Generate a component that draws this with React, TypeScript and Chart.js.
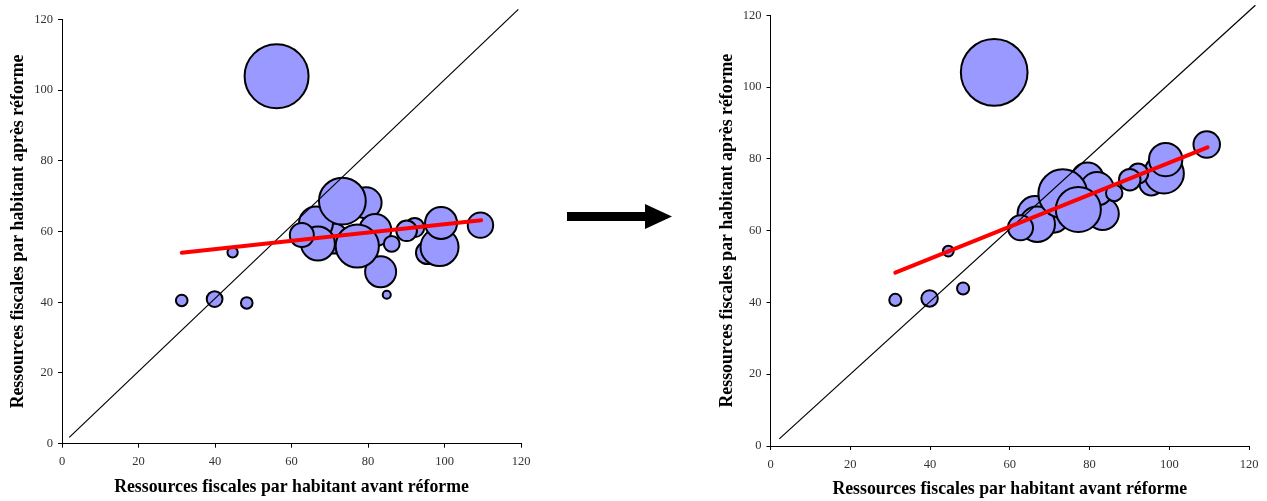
import React, { useEffect, useRef } from 'react';
import { Chart, registerables } from 'chart.js';

Chart.register(...registerables);

// Ressources fiscales par habitant avant réforme (axe horizontal, commun aux deux graphiques)
const avantReforme = [84.9, 79.5, 83.3, 81.9, 95.5, 98.7, 99.1, 92.2, 90.1, 86.2, 71.0, 66.4, 66.9, 62.7, 73.3, 77.2, 56.1, 31.3, 39.9, 48.3, 44.6, 109.4];
// Ressources fiscales par habitant après réforme, premier scénario
const apresScenarioA = [42.1, 68.1, 48.6, 60.4, 54.0, 55.6, 62.4, 61.1, 60.2, 56.5, 58.0, 62.3, 56.6, 59.0, 68.6, 55.9, 103.9, 40.5, 40.9, 39.8, 54.1, 61.8];
// Ressources fiscales par habitant après réforme, second scénario
const apresScenarioB = [71.0, 74.5, 64.7, 71.7, 73.1, 75.9, 79.8, 75.9, 74.2, 70.5, 63.8, 64.7, 61.8, 60.8, 70.3, 65.9, 104.1, 40.7, 41.1, 43.9, 54.3, 84.0];
// Poids de chaque collectivité (taille des bulles)
const poids = [1.6, 23.5, 23.5, 25, 12.5, 35.3, 25, 9, 10.4, 6.1, 22, 28.2, 28.2, 14.1, 53.5, 45.6, 100, 3.3, 6.1, 3.3, 2.6, 15.8];

// Droites de tendance (extrémités)
const tendanceX = [31.3, 109.6];
const tendanceA = [54.0, 63.2];
const tendanceB = [48.3, 83.2];

// Première bissectrice
const bissectriceAX = [1.9, 119.3];
const bissectriceAY = [1.8, 122.8];
const bissectriceBX = [2.2, 121.6];
const bissectriceBY = [2.0, 122.8];

const axisTicks = [0, 20, 40, 60, 80, 100, 120];

const titreX = 'Ressources fiscales par habitant avant réforme';
const titreY = 'Ressources fiscales par habitant après réforme';

const poidsMax = Math.max(...poids);

type Frame = {
  width: number;
  padRight: number;
  padTop: number;
  yWidth: number;
  xHeight: number;
  yTitlePad: number;
  xTitlePad: number;
};

function buildConfig(apres: number[], tendance: number[], bx: number[], by: number[], f: Frame): any {
  // the largest bubble spans about 14 % of the plot width
  const plotWidth = f.width - f.yWidth - f.padRight;
  const rMax = plotWidth * 0.0697;
  const bubbles = avantReforme.map((x, i) => ({ x, y: apres[i], r: rMax * Math.sqrt(poids[i] / poidsMax) }));
  const tickFont = { family: 'Liberation Serif', size: 12.5 };
  const titleFont = { family: 'Liberation Serif', size: 17.8, weight: 'bold' as const };
  return {
    type: 'bubble',
    data: {
      datasets: [
        {
          type: 'line',
          data: tendanceX.map((x, i) => ({ x, y: tendance[i] })),
          borderColor: '#ff0000',
          borderWidth: 4,
          borderCapStyle: 'round',
          pointRadius: 0,
          fill: false,
          clip: false,
        },
        {
          type: 'line',
          data: bx.map((x, i) => ({ x, y: by[i] })),
          borderColor: '#000000',
          borderWidth: 1.2,
          pointRadius: 0,
          fill: false,
          clip: false,
        },
        {
          type: 'bubble',
          data: bubbles,
          backgroundColor: '#9999ff',
          borderColor: '#000000',
          borderWidth: 2,
          clip: false,
        },
      ],
    },
    options: {
      animation: false,
      responsive: false,
      events: [],
      layout: {
        autoPadding: false,
        padding: { left: 0, right: f.padRight, top: f.padTop, bottom: 0 },
      },
      plugins: { legend: { display: false }, tooltip: { enabled: false } },
      scales: {
        x: {
          type: 'linear',
          min: 0,
          max: 120,
          afterBuildTicks: (s: any) => {
            s.ticks = axisTicks.map((v) => ({ value: v }));
          },
          afterFit: (s: any) => {
            s.height = f.xHeight;
          },
          grid: { drawOnChartArea: false, drawTicks: true, tickLength: 4, color: '#000000', lineWidth: 1 },
          border: { display: true, color: '#000000', width: 1 },
          ticks: { font: tickFont, color: '#333333', padding: 7, maxRotation: 0 },
          title: { display: true, text: titreX, font: titleFont, color: '#000000', padding: { top: 0, bottom: f.xTitlePad } },
        },
        y: {
          type: 'linear',
          min: 0,
          max: 120,
          afterBuildTicks: (s: any) => {
            s.ticks = axisTicks.map((v) => ({ value: v }));
          },
          afterFit: (s: any) => {
            s.width = f.yWidth;
          },
          grid: { drawOnChartArea: false, drawTicks: true, tickLength: 4, color: '#000000', lineWidth: 1 },
          border: { display: true, color: '#000000', width: 1 },
          ticks: { font: tickFont, color: '#333333', padding: 5 },
          title: { display: true, text: titreY, font: titleFont, color: '#000000', padding: { top: f.yTitlePad, bottom: 0 } },
        },
      },
    },
  };
}

function BubblePanel(props: {
  left: number;
  apres: number[];
  tendance: number[];
  bx: number[];
  by: number[];
  frame: Frame;
}) {
  const ref = useRef<HTMLCanvasElement | null>(null);
  useEffect(() => {
    if (!ref.current) return;
    const chart = new Chart(ref.current, buildConfig(props.apres, props.tendance, props.bx, props.by, props.frame));
    return () => chart.destroy();
  }, []);
  const w = props.frame.width;
  return (
    <canvas
      ref={ref}
      width={w}
      height={501}
      style={{ position: 'absolute', left: props.left, top: 0, width: w, height: 501 }}
    />
  );
}

export default function App() {
  return (
    <div style={{ position: 'absolute', left: 0, top: 0, width: 1267, height: 501, background: '#ffffff', overflow: 'hidden' }}>
      <BubblePanel
        left={0}
        apres={apresScenarioA}
        tendance={tendanceA}
        bx={bissectriceAX}
        by={bissectriceAY}
        frame={{ width: 540, padRight: 19, padTop: 19.3, yWidth: 62, xHeight: 57.3, yTitlePad: 7.4, xTitlePad: 2.6 }}
      />
      <svg width={1267} height={501} style={{ position: 'absolute', left: 0, top: 0, pointerEvents: 'none' }}>
        <polygon points="567,212 645,212 645,204 672,216.5 645,229 645,221 567,221" fill="#000000" />
      </svg>
      <BubblePanel
        left={700}
        apres={apresScenarioB}
        tendance={tendanceB}
        bx={bissectriceBX}
        by={bissectriceBY}
        frame={{ width: 567, padRight: 18, padTop: 15.3, yWidth: 70.5, xHeight: 55, yTitlePad: 16.4, xTitlePad: 0.6 }}
      />
    </div>
  );
}
